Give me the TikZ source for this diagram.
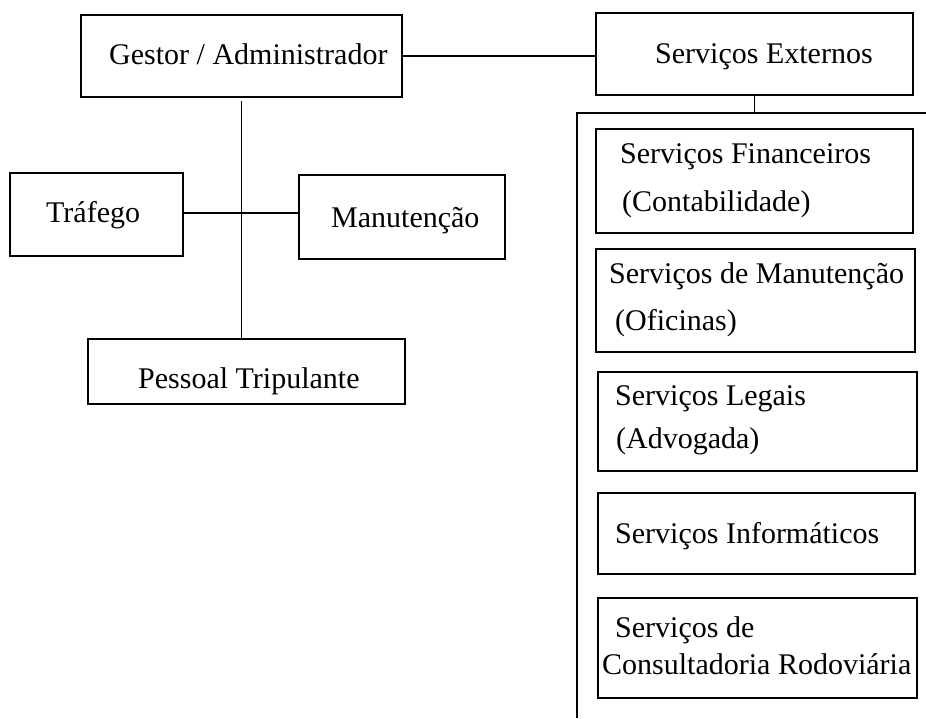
\documentclass[tikz,border=0pt]{standalone}
\usepackage{fontspec}
\setmainfont{Liberation Serif}
\usetikzlibrary{fit}
\tikzset{
  box/.style={draw=black, line width=1.6pt, inner sep=0pt, rectangle},
  txt/.style={inner sep=0pt, anchor=base west, font=\fontsize{30}{36}\selectfont},
  conn/.style={draw=black, line width=1.6pt}
}
\begin{document}
\begin{tikzpicture}[x=1pt, y=-1pt]
\fill[white] (0,0) rectangle (926,718);
\useasboundingbox (0,0) rectangle (926,718);
% left organisation
\node[box, fit={(81,15) (402,97)}] (gestor) {};
\node[txt] (gestorT) at (109,64) {Gestor / Administrador};
\node[box, fit={(10,173) (183,256)}] (trafego) {};
\node[txt] (trafegoT) at (46,222) {Tráfego};
\node[box, fit={(299,175) (505,259)}] (manut) {};
\node[txt] (manutT) at (331,227) {Manutenção};
\node[box, fit={(88,339) (405,404)}] (pessoal) {};
\node[txt] (pessoalT) at (138,388) {Pessoal Tripulante};
% external services
\node[box, fit={(596,13) (913,95)}] (externos) {};
\node[txt] (externosT) at (655,63) {Serviços Externos};
\node[box, fit={(596,129) (913,233)}] (fin) {};
\node[txt] (finT1) at (620,163) {Serviços Financeiros};
\node[txt] (finT2) at (622,211) {(Contabilidade)};
\node[box, fit={(596,249) (915,352)}] (oficinas) {};
\node[txt] (oficinasT1) at (609,283) {Serviços de Manutenção};
\node[txt] (oficinasT2) at (615,330) {(Oficinas)};
\node[box, fit={(598,372) (917,471)}] (legais) {};
\node[txt] (legaisT1) at (615,405) {Serviços Legais};
\node[txt] (legaisT2) at (616,448) {(Advogada)};
\node[box, fit={(598,493) (915,574)}] (info) {};
\node[txt] (infoT) at (615,543) {Serviços Informáticos};
\node[box, fit={(598,598) (917,698)}] (consult) {};
\node[txt] (consultT1) at (615,637) {Serviços de};
\node[txt] (consultT2) at (602,674) {Consultadoria Rodoviária};
% connectors
\coordinate (hub) at (241.5,213);
\draw[conn, shorten <=3pt] (gestor.south) -- (gestor.south |- pessoal.north);
\draw[conn] (trafego.east |- hub) -- (manut.west |- hub);
\draw[conn] (gestor.east) -- (gestor.east -| externos.west);
\coordinate (brk) at (577,113);
\coordinate (brkR) at (926,113);
\coordinate (brkB) at (577,718);
\draw[conn] (externos.south) -- (externos.south |- brk);
\draw[conn] (brkR) -- (brk) -- (brkB);
\end{tikzpicture}
\end{document}
